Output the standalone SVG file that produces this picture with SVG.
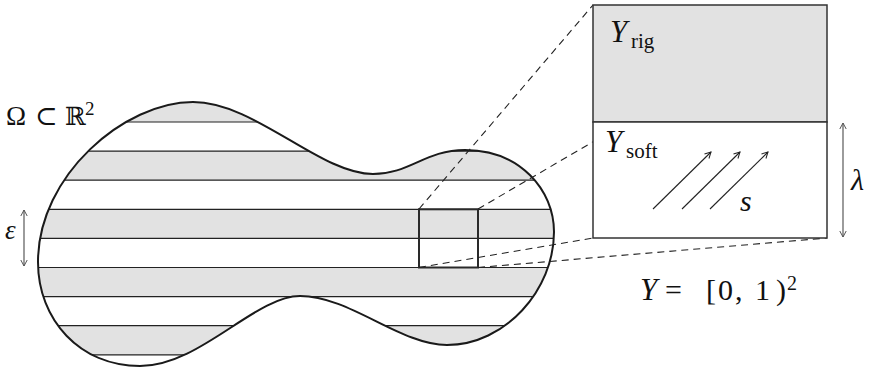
<svg xmlns="http://www.w3.org/2000/svg" width="871" height="369" viewBox="0 0 871 369">
<style>
.band{fill:#e2e2e2}
.sl{stroke:#222;stroke-width:1.2;fill:none}
.outline{fill:none;stroke:#1a1a1a;stroke-width:2}
.dash{stroke:#222;stroke-width:1.1;stroke-dasharray:7 5;fill:none}
.arr{stroke:#222;stroke-width:1.1;fill:none}
.dim{stroke:#666;stroke-width:1.3;fill:none}
text{font-family:'Liberation Serif','DejaVu Serif',serif;fill:#111}
.it{font-style:italic}
</style>
<defs>
<path id="blobp" d="M38,262 C38,175 125,102 193,102 C255,102 320,174 373,174 C410,174 425,150 465,150 C520,150 554,190 554,232 C554,290 505,345 447,345 C400,345 350,296 300,296 C255,296 200,366 140,366 C80,366 38,320 38,262 Z"/>
<clipPath id="clip"><use href="#blobp"/></clipPath>
<marker id="ah" viewBox="-7 -5 8 10" refX="0" refY="0" markerWidth="8" markerHeight="10" markerUnits="userSpaceOnUse" orient="auto-start-reverse">
<path d="M-6,-3.2 L0,0 L-6,3.2" fill="none" stroke="#222" stroke-width="1"/>
</marker>
<marker id="ahg" viewBox="-7 -5 8 10" refX="0" refY="0" markerWidth="8" markerHeight="10" markerUnits="userSpaceOnUse" orient="auto-start-reverse">
<path d="M-6,-3.2 L0,0 L-6,3.2" fill="none" stroke="#555" stroke-width="1"/>
</marker>
</defs>

<g id="domain">
<g clip-path="url(#clip)">
<rect class="band" x="0" y="90" width="600" height="32"/>
<rect class="band" x="0" y="151.1" width="600" height="29.1"/>
<rect class="band" x="0" y="209.3" width="600" height="29.1"/>
<rect class="band" x="0" y="267.5" width="600" height="29.1"/>
<rect class="band" x="0" y="325.7" width="600" height="29.1"/>
<g class="sl">
<line x1="0" y1="122" x2="600" y2="122"/>
<line x1="0" y1="151.1" x2="600" y2="151.1"/>
<line x1="0" y1="180.2" x2="600" y2="180.2"/>
<line x1="0" y1="209.3" x2="600" y2="209.3"/>
<line x1="0" y1="238.4" x2="600" y2="238.4"/>
<line x1="0" y1="267.5" x2="600" y2="267.5"/>
<line x1="0" y1="296.6" x2="600" y2="296.6"/>
<line x1="0" y1="325.7" x2="600" y2="325.7"/>
<line x1="0" y1="354.8" x2="600" y2="354.8"/>
</g>
</g>
<use href="#blobp" class="outline"/>
</g>

<g id="zoom-box">
<rect x="419" y="209.3" width="59" height="58.2" fill="none" stroke="#2a2a2a" stroke-width="2"/>
</g>

<g id="connectors">
<line class="dash" x1="419" y1="209" x2="593" y2="5"/>
<line class="dash" x1="478" y1="209" x2="827" y2="5"/>
<line class="dash" x1="419" y1="267.5" x2="593" y2="238"/>
<line class="dash" x1="478" y1="267.5" x2="827" y2="238"/>
</g>

<g id="cell">
<rect x="593" y="5" width="234" height="117" fill="#e2e2e2" stroke="#333" stroke-width="1.5"/>
<rect x="593" y="122" width="234" height="116" fill="#fff" stroke="#333" stroke-width="1.5"/>
<g class="arr" marker-end="url(#ah)">
<line x1="653" y1="209" x2="711" y2="152"/>
<line x1="682" y1="209" x2="740" y2="152"/>
<line x1="710" y1="209" x2="768" y2="152"/>
</g>
<text class="it" x="740" y="211" font-size="30">s</text>
<text class="it" x="610" y="42" font-size="31">Y</text>
<text x="631" y="48" font-size="21">rig</text>
<text class="it" x="605" y="152" font-size="31">Y</text>
<text x="626" y="158" font-size="21">soft</text>
</g>

<g id="lambda-dim">
<line class="dim" x1="843" y1="123" x2="843" y2="237" marker-start="url(#ahg)" marker-end="url(#ahg)"/>
<text class="it" x="851" y="190" font-size="30">λ</text>
</g>

<g id="eps-dim">
<line class="dim" x1="24" y1="210" x2="24" y2="266" marker-start="url(#ahg)" marker-end="url(#ahg)"/>
<text class="it" x="5" y="239" font-size="27">ε</text>
</g>

<g id="labels">
<text x="6" y="125" font-size="27">Ω</text>
<text x="35" y="125" font-size="27">⊂</text>
<text x="65" y="125" font-size="25" style="font-family:'DejaVu Serif',serif">ℝ</text>
<text x="85" y="115" font-size="19">2</text>
<text class="it" x="640" y="300" font-size="31">Y</text>
<text x="665" y="300" font-size="30">=</text>
<text x="706" y="300" font-size="30">[</text>
<text x="718" y="300" font-size="30">0</text>
<text x="735" y="300" font-size="30">,</text>
<text x="755" y="300" font-size="30">1</text>
<text x="776" y="300" font-size="30">)</text>
<text x="787" y="290" font-size="20">2</text>
</g>
</svg>
